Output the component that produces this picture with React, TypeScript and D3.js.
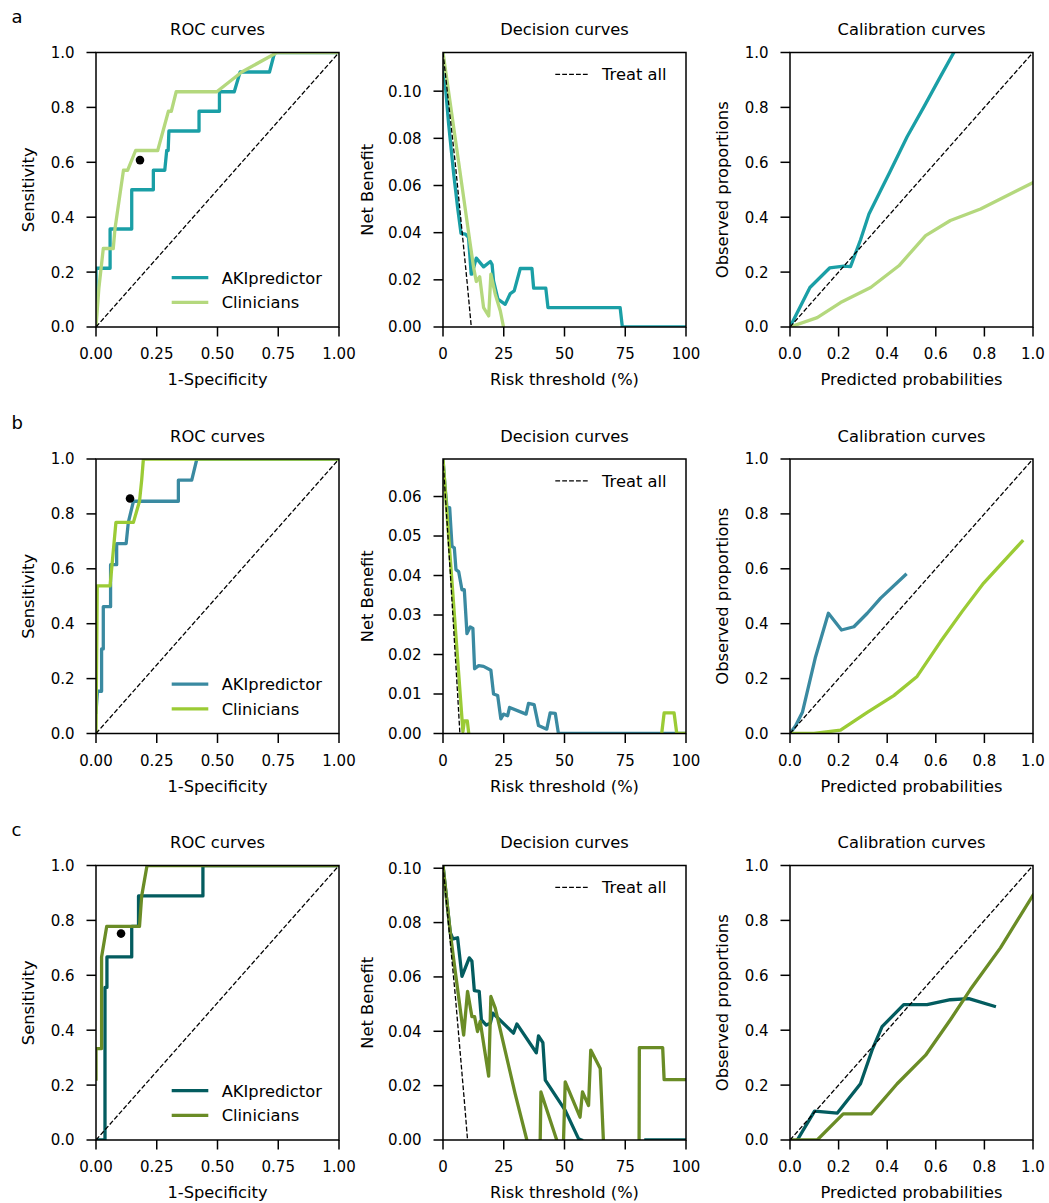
import React from "react";
import * as d3 from "d3";

type P = [number, number] | null;

// ---------- shared labels & ticks ----------
const seriesNames = ["AKIpredictor", "Clinicians"];
const treatAllLabel = "Treat all";
const panelLetters = ["a", "b", "c"];
const panelTitles = ["ROC curves", "Decision curves", "Calibration curves"];
const xLabels = ["1-Specificity", "Risk threshold (%)", "Predicted probabilities"];
const yLabels = ["Sensitivity", "Net Benefit", "Observed proportions"];

const rocTicks = [0, 0.25, 0.5, 0.75, 1];
const unitTicks = [0, 0.2, 0.4, 0.6, 0.8, 1];
const thresholdTicks = [0, 25, 50, 75, 100];
const netBenefitTicksA = [0, 0.02, 0.04, 0.06, 0.08, 0.1];
const netBenefitTicksB = [0, 0.01, 0.02, 0.03, 0.04, 0.05, 0.06];
const netBenefitTicksC = [0, 0.02, 0.04, 0.06, 0.08, 0.1];
const netBenefitMax = [0.1164, 0.0695, 0.101];

const diagonal: P[] = [[0, 0], [1, 1]];

// ---------- colours ----------
const akiColors = ["#1a9fa6", "#3a8aa1", "#035c5f"];
const clinColors = ["#b4d87d", "#9bcb35", "#6a8c26"];

// ---------- cohort a ----------
const rocAkiA: P[] = [[0, 0.071], [0, 0.214], [0.058, 0.214], [0.058, 0.357], [0.147, 0.357], [0.147, 0.5], [0.236, 0.5], [0.236, 0.571], [0.283, 0.571], [0.291, 0.643], [0.297, 0.643], [0.3, 0.714], [0.424, 0.714], [0.424, 0.786], [0.508, 0.786], [0.508, 0.857], [0.569, 0.857], [0.593, 0.929], [0.714, 0.929], [0.735, 1], [1, 1]];
const rocClinA: P[] = [[0, 0], [0.012, 0.143], [0.03, 0.286], [0.071, 0.286], [0.078, 0.357], [0.113, 0.571], [0.13, 0.571], [0.163, 0.643], [0.254, 0.643], [0.298, 0.786], [0.31, 0.786], [0.33, 0.857], [0.497, 0.857], [0.6, 0.929], [0.745, 1], [1, 1]];
const rocPointA: [number, number] = [0.181, 0.608];

const dcaAkiA: P[] = [[0, 0.1164], [0.55, 0.1075], [2.3, 0.0862], [4.4, 0.065], [6.0, 0.0508], [7.4, 0.0397], [9.2, 0.0394], [10.5, 0.038], [11.6, 0.0224], [11.9, 0.0224], [13.7, 0.0292], [16.7, 0.0255], [19.5, 0.0278], [20.2, 0.0265], [20.8, 0.0196], [22.6, 0.0118], [25.6, 0.0096], [27.7, 0.0142], [29.3, 0.0153], [31.8, 0.0248], [36.6, 0.0248], [37.3, 0.0165], [42.3, 0.0165], [43.2, 0.0082], [72.9, 0.0082], [73.8, 0], [100, 0]];
const dcaClinA: P[] = [[0, 0.1164], [5.75, 0.0749], [11.2, 0.0352], [12.6, 0.0252], [13.7, 0.0193], [15.1, 0.0213], [16.7, 0.0082], [18.8, 0.0047], [19.7, 0.0224], [21.5, 0.0139], [23.6, 0.0068], [24.9, 0]];
const treatAllA: P[] = [[0, 0.1164], [5, 0.0699], [10, 0.0182], [11.64, 0]];

const calAkiA: P[] = [[0, 0], [0.082, 0.144], [0.163, 0.215], [0.222, 0.222], [0.249, 0.22], [0.29, 0.317], [0.325, 0.412], [0.373, 0.497], [0.411, 0.565], [0.482, 0.693], [0.551, 0.802], [0.619, 0.912], [0.674, 1.0]];
const calClinA: P[] = [[0, 0], [0.112, 0.034], [0.208, 0.089], [0.332, 0.144], [0.448, 0.223], [0.558, 0.333], [0.66, 0.388], [0.784, 0.43], [1.0, 0.526]];

// ---------- cohort b ----------
const rocAkiB: P[] = [[0, 0.077], [0.006, 0.154], [0.023, 0.154], [0.023, 0.308], [0.03, 0.308], [0.03, 0.462], [0.06, 0.462], [0.06, 0.615], [0.085, 0.615], [0.085, 0.692], [0.124, 0.692], [0.133, 0.769], [0.154, 0.846], [0.339, 0.846], [0.339, 0.923], [0.394, 0.923], [0.415, 1], [1, 1]];
const rocClinB: P[] = [[0, 0], [0.005, 0.538], [0.058, 0.538], [0.082, 0.769], [0.154, 0.769], [0.179, 0.846], [0.188, 0.923], [0.195, 1], [1, 1]];
const rocPointB: [number, number] = [0.14, 0.856];

const dcaAkiB: P[] = [[0, 0.0695], [0.82, 0.0627], [1.64, 0.0572], [2.74, 0.0572], [3.7, 0.0474], [4.66, 0.047], [5.34, 0.0415], [6.44, 0.041], [7.8, 0.0364], [8.77, 0.0364], [9.86, 0.0253], [11.2, 0.027], [12.3, 0.0266], [13.0, 0.0164], [14.7, 0.0172], [16.7, 0.017], [19.7, 0.016], [20.8, 0.01], [22.5, 0.0096], [23.8, 0.0037], [24.9, 0.0049], [26.6, 0.0045], [27.4, 0.0066], [34.2, 0.0049], [35.2, 0.0076], [37.5, 0.0073], [39.3, 0.002], [42.7, 0.0011], [44.1, 0.0052], [46.2, 0.0051], [47.5, 0], [100, 0]];
const dcaClinB: P[] = [[0, 0.0695], [8.2, 0.0005], [8.8, 0.0032], [10.0, 0.0032], [10.6, 0], null, [90.0, 0], [91.0, 0.0052], [95.1, 0.0052], [96.2, 0], [100, 0]];
const treatAllB: P[] = [[0, 0.0695], [3, 0.0407], [6, 0.0101], [6.95, 0]];

const calAkiB: P[] = [[0, 0], [0.023, 0.028], [0.051, 0.077], [0.105, 0.279], [0.158, 0.438], [0.212, 0.377], [0.263, 0.389], [0.318, 0.438], [0.373, 0.493], [0.475, 0.578]];
const calClinB: P[] = [[0, 0], [0.099, 0], [0.208, 0.012], [0.318, 0.077], [0.427, 0.138], [0.523, 0.208], [0.619, 0.334], [0.708, 0.444], [0.797, 0.548], [0.955, 0.7]];

// ---------- cohort c ----------
const rocAkiC: P[] = [[0, 0], [0.037, 0], [0.037, 0.556], [0.045, 0.556], [0.045, 0.667], [0.147, 0.667], [0.147, 0.778], [0.175, 0.778], [0.175, 0.889], [0.44, 0.889], [0.44, 1], [1, 1]];
const rocClinC: P[] = [[0, 0.222], [0, 0.333], [0.023, 0.333], [0.023, 0.667], [0.044, 0.778], [0.179, 0.778], [0.188, 0.889], [0.21, 1], [1, 1]];
const rocPointC: [number, number] = [0.103, 0.752];

const dcaAkiC: P[] = [[0, 0.101], [3.0, 0.0763], [4.1, 0.074], [6.0, 0.0744], [7.8, 0.0602], [10.8, 0.067], [11.9, 0.0658], [12.9, 0.055], [14.9, 0.0547], [15.8, 0.0442], [17.8, 0.0423], [19.5, 0.043], [20.5, 0.0467], [29.0, 0.0393], [30.4, 0.0427], [38.4, 0.0321], [39.3, 0.0383], [41.1, 0.0358], [42.1, 0.022], [50.3, 0.0109], [55.8, 0.0004], [57.0, 0], null, [83.5, 0], [100, 0]];
const dcaClinC: P[] = [[0, 0.101], [3.0, 0.0763], [4.4, 0.0664], [8.5, 0.0386], [10.1, 0.0547], [11.9, 0.0454], [13.0, 0.0454], [14.2, 0.0399], [15.3, 0.0436], [18.8, 0.0235], [19.7, 0.0528], [21.5, 0.0485], [29.7, 0.017], [34.5, 0], null, [40.0, 0], [40.3, 0.0177], [46.8, 0], null, [49.6, 0], [50.3, 0.0214], [56.4, 0.0084], [57.4, 0.0177], [59.9, 0.0127], [60.8, 0.0331], [64.7, 0.0263], [66.0, 0], null, [80.7, 0], [80.8, 0.034], [90.4, 0.034], [91.0, 0.0222], [100, 0.0222]];
const treatAllC: P[] = [[0, 0.101], [5, 0.0537], [9, 0.0121], [10.1, 0]];

const calAkiC: P[] = [[0.03, 0], [0.101, 0.105], [0.195, 0.098], [0.29, 0.205], [0.338, 0.328], [0.379, 0.413], [0.468, 0.493], [0.564, 0.493], [0.66, 0.511], [0.736, 0.515], [0.841, 0.487]];
const calClinC: P[] = [[0, 0], [0.112, 0], [0.219, 0.095], [0.334, 0.095], [0.441, 0.205], [0.558, 0.309], [0.66, 0.438], [0.742, 0.548], [0.866, 0.7], [1.0, 0.892]];

// ---------- layout ----------
const FONT = "DejaVu Sans";
const W = 1049;
const H = 1203;
const PW = 243;
const PH = 274.5;
const COLS = [96, 443, 790];
const ROWS = [52.5, 459, 865.5];
const TICK_FS = 15;
const LABEL_FS = 16.3;
const CURVE_W = 3.3;
const SPINE_W = 1.5;
const TICK_LEN = 9.5;
const DASH = "4.8 2.1";

interface Series {
  data: P[];
  color: string;
}

interface PanelProps {
  id: string;
  x0: number;
  y0: number;
  xDomain: [number, number];
  yDomain: [number, number];
  xTicks: number[];
  yTicks: number[];
  xFmt: (v: number) => string;
  yFmt: (v: number) => string;
  title: string;
  xLabel: string;
  yLabel: string;
  yLabelOffset: number;
  lines: Series[];
  refLine: P[];
  marker?: [number, number];
  legend: "series" | "treat";
  legendColors?: string[];
}

function Panel(p: PanelProps) {
  const x = d3.scaleLinear().domain(p.xDomain).range([p.x0, p.x0 + PW]);
  const y = d3.scaleLinear().domain(p.yDomain).range([p.y0 + PH, p.y0]);
  const line = d3
    .line<P>()
    .defined((d) => d !== null)
    .x((d) => x((d as [number, number])[0]))
    .y((d) => y((d as [number, number])[1]));
  const bottom = p.y0 + PH;

  return (
    <g>
      <defs>
        <clipPath id={p.id}>
          <rect x={p.x0} y={p.y0} width={PW} height={PH} />
        </clipPath>
      </defs>
      <g clipPath={`url(#${p.id})`}>
        {p.lines.map((l, i) => (
          <path
            key={i}
            d={line(l.data) || ""}
            fill="none"
            stroke={l.color}
            strokeWidth={CURVE_W}
            strokeLinejoin="round"
            strokeLinecap="square"
          />
        ))}
        <path d={line(p.refLine) || ""} fill="none" stroke="#000" strokeWidth={1.3} strokeDasharray={DASH} />
      </g>
      {p.marker && <circle cx={x(p.marker[0])} cy={y(p.marker[1])} r={4.3} fill="#000" />}

      {/* frame */}
      <rect x={p.x0} y={p.y0} width={PW} height={PH} fill="none" stroke="#000" strokeWidth={SPINE_W} />

      {/* x ticks */}
      {p.xTicks.map((t) => (
        <g key={`x${t}`}>
          <line x1={x(t)} x2={x(t)} y1={bottom} y2={bottom + TICK_LEN} stroke="#000" strokeWidth={SPINE_W} />
          <text x={x(t)} y={bottom + 32} textAnchor="middle" fontSize={TICK_FS} fontFamily={FONT} fill="#000">
            {p.xFmt(t)}
          </text>
        </g>
      ))}
      {/* y ticks */}
      {p.yTicks.map((t) => (
        <g key={`y${t}`}>
          <line x1={p.x0 - TICK_LEN} x2={p.x0} y1={y(t)} y2={y(t)} stroke="#000" strokeWidth={SPINE_W} />
          <text x={p.x0 - 21.5} y={y(t) + TICK_FS * 0.365} textAnchor="end" fontSize={TICK_FS} fontFamily={FONT} fill="#000">
            {p.yFmt(t)}
          </text>
        </g>
      ))}

      {/* titles and axis labels */}
      <text x={p.x0 + PW / 2} y={p.y0 - 17.5} textAnchor="middle" fontSize={LABEL_FS} fontFamily={FONT} fill="#000">
        {p.title}
      </text>
      <text x={p.x0 + PW / 2} y={bottom + 58} textAnchor="middle" fontSize={LABEL_FS} fontFamily={FONT} fill="#000">
        {p.xLabel}
      </text>
      <text
        transform={`translate(${p.x0 - p.yLabelOffset},${p.y0 + PH / 2}) rotate(-90)`}
        textAnchor="middle"
        fontSize={LABEL_FS}
        fontFamily={FONT}
        fill="#000"
      >
        {p.yLabel}
      </text>

      {/* legend */}
      {p.legend === "series" &&
        seriesNames.map((name, i) => {
          const cy = p.y0 + 225.2 + i * 24.6;
          return (
            <g key={name}>
              <line x1={p.x0 + 75.7} x2={p.x0 + 112.3} y1={cy} y2={cy} stroke={p.legendColors![i]} strokeWidth={CURVE_W} />
              <text x={p.x0 + 125.7} y={cy + LABEL_FS * 0.36} fontSize={LABEL_FS} fontFamily={FONT} fill="#000">
                {name}
              </text>
            </g>
          );
        })}
      {p.legend === "treat" && (
        <g>
          <line
            x1={p.x0 + 112.3}
            x2={p.x0 + 145.7}
            y1={p.y0 + 21.8}
            y2={p.y0 + 21.8}
            stroke="#000"
            strokeWidth={1.3}
            strokeDasharray={DASH}
          />
          <text x={p.x0 + 159} y={p.y0 + 21.8 + LABEL_FS * 0.36} fontSize={LABEL_FS} fontFamily={FONT} fill="#000">
            {treatAllLabel}
          </text>
        </g>
      )}
    </g>
  );
}

const f2 = d3.format(".2f");
const f1 = d3.format(".1f");
const fd = d3.format("d");

const cohorts = [
  {
    roc: [rocAkiA, rocClinA],
    point: rocPointA,
    dca: [dcaAkiA, dcaClinA],
    treat: treatAllA,
    nbTicks: netBenefitTicksA,
    cal: [calAkiA, calClinA],
  },
  {
    roc: [rocAkiB, rocClinB],
    point: rocPointB,
    dca: [dcaAkiB, dcaClinB],
    treat: treatAllB,
    nbTicks: netBenefitTicksB,
    cal: [calAkiB, calClinB],
  },
  {
    roc: [rocAkiC, rocClinC],
    point: rocPointC,
    dca: [dcaAkiC, dcaClinC],
    treat: treatAllC,
    nbTicks: netBenefitTicksC,
    cal: [calAkiC, calClinC],
  },
];

export default function App() {
  return (
    <svg
      width={W}
      height={H}
      viewBox={`0 0 ${W} ${H}`}
      style={{ position: "absolute", left: 0, top: 0, background: "#fff" }}
    >
      <rect x={0} y={0} width={W} height={H} fill="#fff" />
      {cohorts.map((c, r) => {
        const top = ROWS[r];
        const colors = [akiColors[r], clinColors[r]];
        return (
          <g key={r}>
            <text x={11.5} y={top - 30} fontSize={18} fontFamily={FONT} fill="#000">
              {panelLetters[r]}
            </text>
            <Panel
              id={`roc${r}`}
              x0={COLS[0]}
              y0={top}
              xDomain={[0, 1]}
              yDomain={[0, 1]}
              xTicks={rocTicks}
              yTicks={unitTicks}
              xFmt={f2}
              yFmt={f1}
              title={panelTitles[0]}
              xLabel={xLabels[0]}
              yLabel={yLabels[0]}
              yLabelOffset={62}
              lines={[
                { data: c.roc[0], color: colors[0] },
                { data: c.roc[1], color: colors[1] },
              ]}
              refLine={diagonal}
              marker={c.point}
              legend="series"
              legendColors={colors}
            />
            <Panel
              id={`dca${r}`}
              x0={COLS[1]}
              y0={top}
              xDomain={[0, 100]}
              yDomain={[0, netBenefitMax[r]]}
              xTicks={thresholdTicks}
              yTicks={c.nbTicks}
              xFmt={fd}
              yFmt={f2}
              title={panelTitles[1]}
              xLabel={xLabels[1]}
              yLabel={yLabels[1]}
              yLabelOffset={70}
              lines={[
                { data: c.dca[0], color: colors[0] },
                { data: c.dca[1], color: colors[1] },
              ]}
              refLine={c.treat}
              legend="treat"
            />
            <Panel
              id={`cal${r}`}
              x0={COLS[2]}
              y0={top}
              xDomain={[0, 1]}
              yDomain={[0, 1]}
              xTicks={unitTicks}
              yTicks={unitTicks}
              xFmt={f1}
              yFmt={f1}
              title={panelTitles[2]}
              xLabel={xLabels[2]}
              yLabel={yLabels[2]}
              yLabelOffset={62}
              lines={[
                { data: c.cal[0], color: colors[0] },
                { data: c.cal[1], color: colors[1] },
              ]}
              refLine={diagonal}
              legend="none" as any
            />
          </g>
        );
      })}
    </svg>
  );
}
